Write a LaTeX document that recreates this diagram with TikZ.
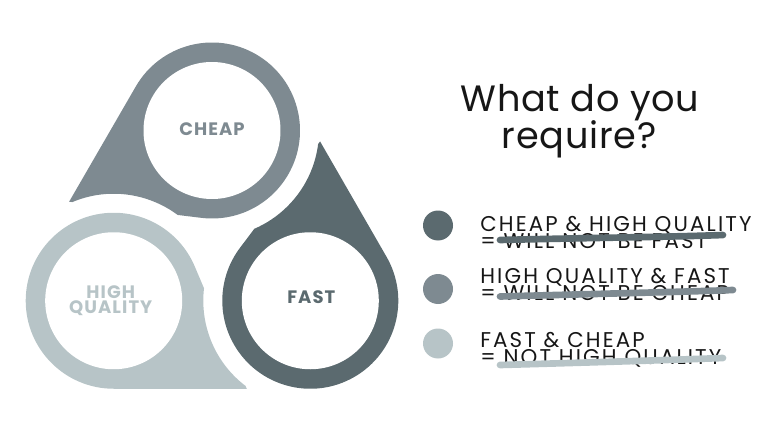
\documentclass[tikz,border=0pt]{standalone}
\usepackage{fontspec}
\setmainfont{Poppins}
\newfontfamily\titlefont{Poppins}[LetterSpace=2]
\newfontfamily\legendfont{Poppins}[LetterSpace=10]
\newfontfamily\labelfont{Poppins}[LetterSpace=6]
\usetikzlibrary{positioning, calc}

\definecolor{cheapc}{HTML}{7E8A91}
\definecolor{fastc}{HTML}{5B6A6F}
\definecolor{qualc}{HTML}{B7C4C7}
\definecolor{inkc}{HTML}{161616}

\begin{document}
\begin{tikzpicture}[
      x=0.75pt, y=0.75pt,
      lbl/.style={align=center, inner sep=0pt,
                  font=\labelfont\fontsize{13.5}{13}\selectfont\bfseries},
      ttl/.style={anchor=base, inner sep=0pt, text=inkc,
                  font=\titlefont\fontsize{27.5}{28}\selectfont},
      dot/.style={circle, minimum size=22.5pt, inner sep=0pt},
      item/.style={anchor=base west, inner sep=0pt, text=inkc,
                   font=\legendfont\fontsize{16}{16}\selectfont},
      strike/.style={line width=5pt, line cap=round},
    ]
    \useasboundingbox (0,0) rectangle (768,433);

    % ---- the three drops -------------------------------------------
    \coordinate (mid) at (212,189);
    \foreach \ang/\col in {0/fastc, 120/cheapc, 240/qualc} {
      \begin{scope}[shift={(mid)}, rotate=\ang]
        \begin{scope}[even odd rule]
          \clip (-400,-400) rectangle (400,400)
            (90:113.5) circle[radius=107];
          \fill[\col] (43.5:149) -- ($(330:113.5)+(29.94:88)$)
            arc[start angle=29.94, end angle=-216.98, radius=88] -- cycle;
        \end{scope}
        \fill[white] (330:113.5) circle[radius=68.5];
      \end{scope}
    }

    % ---- labels in the drops ---------------------------------------
    \node[lbl, text=cheapc] (cheap) at ($(mid)+(90:113.5)+(0,1.5)$) {CHEAP};
    \node[lbl, text=fastc] (fast) at ($(mid)+(330:113.5)+(1,4)$) {FAST};
    \node[lbl, text=qualc] (qual) at ($(mid)+(210:113.5)+(-3,0)$)
      {HIGH\\[-2pt]QUALITY};

    % ---- question ----------------------------------------------------
    \node[ttl] (q1) at (580,321) {What do you};
    \node[ttl] (q2) at (579,285) {require?};

    % ---- legend ------------------------------------------------------
    \node[dot, fill=fastc] (d1) at (438,207.5) {};
    \node[dot, fill=cheapc] (d2) at (438,144) {};
    \node[dot, fill=qualc] (d3) at (438,89.5) {};

    \node[item] (a1) at (480,202) {CHEAP \& HIGH QUALITY};
    \node[item] (b1) at (480,185) {= WILL NOT BE FAST};
    \node[item] (a2) at (480,150) {HIGH QUALITY \& FAST};
    \node[item] (b2) at (480,133) {= WILL NOT BE CHEAP};
    \node[item] (a3) at (480,86) {FAST \& CHEAP};
    \node[item] (b3) at (480,69) {= NOT HIGH QUALITY};

    % ---- brush strokes -----------------------------------------------
    \draw[strike, fastc] (500,193) .. controls (580,195) and (670,196)
      .. (723,198);
    \draw[strike, cheapc] (500,136.5) .. controls (590,139) and (680,141)
      .. (733,143);
    \draw[strike, qualc] (500,68) .. controls (590,70.5) and (670,73)
      .. (723,75);

  \end{tikzpicture}
\end{document}
